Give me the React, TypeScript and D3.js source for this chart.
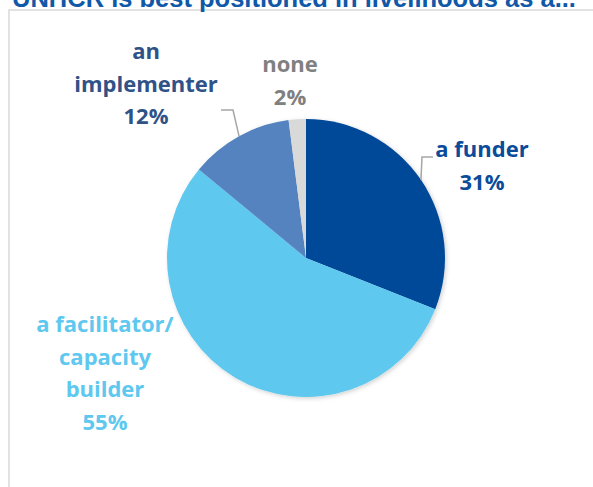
import React, { useRef, useEffect } from 'react';
import * as d3 from 'd3';

const categories = ['a funder', 'a facilitator/ capacity builder', 'an implementer', 'none'];
const values = [31, 55, 12, 2];
const labelLines = [
  ['a funder', '31%'],
  ['a facilitator/', 'capacity', 'builder', '55%'],
  ['an', 'implementer', '12%'],
  ['none', '2%'],
];
const sliceColors = ['#004a98', '#5fc8ef', '#5483bf', '#d9d9d9'];
const labelColors = ['#0a4b9a', '#5fc8ef', '#2f5287', '#808080'];
const title = 'UNHCR is best positioned in livelihoods as a...';

const App: React.FC = () => {
  const svgRef = useRef<SVGSVGElement>(null);

  useEffect(() => {
    if (!svgRef.current) return;
    const width = 593;
    const height = 487;
    const cx = 306;
    const cy = 258;
    const radius = 139;

    const svg = d3.select(svgRef.current);
    svg.selectAll('*').remove();

    // frame of the chart area
    svg.append('rect')
      .attr('x', 9)
      .attr('y', 10)
      .attr('width', width + 20)
      .attr('height', height + 20)
      .attr('fill', 'white')
      .attr('stroke', '#d9d9d9')
      .attr('stroke-width', 1.5);

    // title, cut off by the top edge as in the source slide
    svg.append('text')
      .attr('x', 12)
      .attr('y', 7)
      .attr('fill', '#1058a8')
      .attr('font-family', '"Liberation Sans", Arial, sans-serif')
      .attr('font-weight', 'bold')
      .attr('font-size', '25.5px')
      .text(title);

    const defs = svg.append('defs');
    const filter = defs.append('filter').attr('id', 'pieShadow')
      .attr('x', '-10%').attr('y', '-10%').attr('width', '120%').attr('height', '120%');
    filter.append('feDropShadow')
      .attr('dx', 1.5).attr('dy', 1.5).attr('stdDeviation', 2)
      .attr('flood-color', '#000').attr('flood-opacity', 0.18);

    const pie = d3.pie<number>().sort(null).value(d => d);
    const arcs = pie(values);
    const arc = d3.arc<d3.PieArcDatum<number>>().innerRadius(0).outerRadius(radius);

    const g = svg.append('g').attr('transform', `translate(${cx},${cy})`);
    g.append('g')
      .attr('filter', 'url(#pieShadow)')
      .selectAll('path')
      .data(arcs)
      .join('path')
      .attr('d', arc)
      .attr('fill', (_, i) => sliceColors[i])
      .attr('stroke', 'none');

    // label layout (centre x, first baseline)
    const labelAnchor: [number, number][] = [
      [482, 157],
      [105, 332],
      [146, 59],
      [290, 72],
    ];
    const lineHeight = 32.5;

    arcs.forEach((a, i) => {
      const t = svg.append('text')
        .attr('text-anchor', 'middle')
        .attr('fill', labelColors[i])
        .attr('font-family', '"Open Sans", Lato, sans-serif')
        .attr('font-weight', 'bold')
        .attr('font-size', '22px');
      labelLines[i].forEach((line, j) => {
        t.append('tspan')
          .attr('x', labelAnchor[i][0])
          .attr('y', labelAnchor[i][1] + j * lineHeight)
          .text(line);
      });
    });

    // leader lines from slice edge to label
    const leaders: { idx: number; elbow: [number, number]; end: [number, number] }[] = [
      { idx: 0, elbow: [422, 157], end: [433, 157] },
      { idx: 2, elbow: [233, 110], end: [221, 110] },
    ];
    leaders.forEach(l => {
      const a = arcs[l.idx];
      const mid = (a.startAngle + a.endAngle) / 2;
      const [px, py] = d3.pointRadial(mid, radius);
      const path = d3.path();
      path.moveTo(cx + px, cy + py);
      path.lineTo(l.elbow[0], l.elbow[1]);
      path.lineTo(l.end[0], l.end[1]);
      svg.append('path')
        .attr('d', path.toString())
        .attr('fill', 'none')
        .attr('stroke', '#a6a6a6')
        .attr('stroke-width', 1.5);
    });
  }, []);

  return (
    <svg
      ref={svgRef}
      width={593}
      height={487}
      style={{ position: 'absolute', left: 0, top: 0, display: 'block', background: 'white' }}
      aria-label={categories.join(', ')}
    />
  );
};

export default App;
